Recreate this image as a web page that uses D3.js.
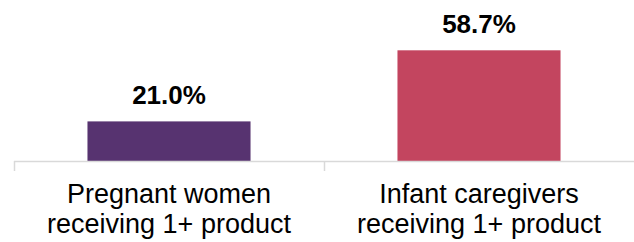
<!DOCTYPE html>
<html>
<head>
<meta charset="utf-8">
<script src="https://cdn.jsdelivr.net/npm/d3@7"></script>
<style>
  body { margin: 0; background: #fff; }
  svg { display: block; font-family: "Liberation Sans", Arial, sans-serif; }
</style>
</head>
<body>
<div id="chart"></div>
<script>
const categories = [
  ["Pregnant women", "receiving 1+ product"],
  ["Infant caregivers", "receiving 1+ product"]
];
const values = [21.0, 58.7];
const colors = ["#573370", "#c3455f"];

const width = 634, height = 242;
const margin = { top: 29, right: 0, bottom: 81, left: 14 };
const baseY = height - margin.bottom;

const svg = d3.select("#chart").append("svg")
    .attr("width", width)
    .attr("height", height);

const x = d3.scaleBand()
    .domain(d3.range(categories.length))
    .range([margin.left, width - margin.right])
    .paddingInner(0.474)
    .paddingOuter(0.237);

const y = d3.scaleLinear()
    .domain([0, 70])
    .range([baseY, margin.top]);

svg.selectAll("rect.bar")
    .data(values)
    .join("rect")
    .attr("class", "bar")
    .attr("x", (d, i) => x(i))
    .attr("width", x.bandwidth())
    .attr("y", d => y(d))
    .attr("height", d => baseY - y(d))
    .attr("fill", (d, i) => colors[i]);

// axis line + ticks at band edges
const step = (width - margin.right - margin.left) / categories.length;
svg.append("line")
    .attr("x1", margin.left).attr("x2", width)
    .attr("y1", baseY + 0.5).attr("y2", baseY + 0.5)
    .attr("stroke", "#d9d9d9").attr("stroke-width", 1.5);
svg.selectAll("line.tick")
    .data(d3.range(categories.length))
    .join("line")
    .attr("class", "tick")
    .attr("x1", i => margin.left + i * step + 0.5)
    .attr("x2", i => margin.left + i * step + 0.5)
    .attr("y1", baseY)
    .attr("y2", baseY + 10)
    .attr("stroke", "#d9d9d9").attr("stroke-width", 1.5);

svg.selectAll("text.val")
    .data(values)
    .join("text")
    .attr("class", "val")
    .attr("x", (d, i) => x(i) + x.bandwidth() / 2)
    .attr("y", d => y(d) - 17)
    .attr("text-anchor", "middle")
    .attr("font-size", 26)
    .attr("font-weight", "bold")
    .attr("fill", "#000")
    .text(d => d.toFixed(1) + "%");

const labels = svg.selectAll("text.cat")
    .data(categories)
    .join("text")
    .attr("class", "cat")
    .attr("text-anchor", "middle")
    .attr("font-size", 27)
    .attr("fill", "#000")
    .attr("transform", (d, i) => `translate(${x(i) + x.bandwidth() / 2},${baseY + 42})`);

labels.selectAll("tspan")
    .data(d => d)
    .join("tspan")
    .attr("x", 0)
    .attr("y", (d, j) => j * 30)
    .text(d => d);
</script>
</body>
</html>
